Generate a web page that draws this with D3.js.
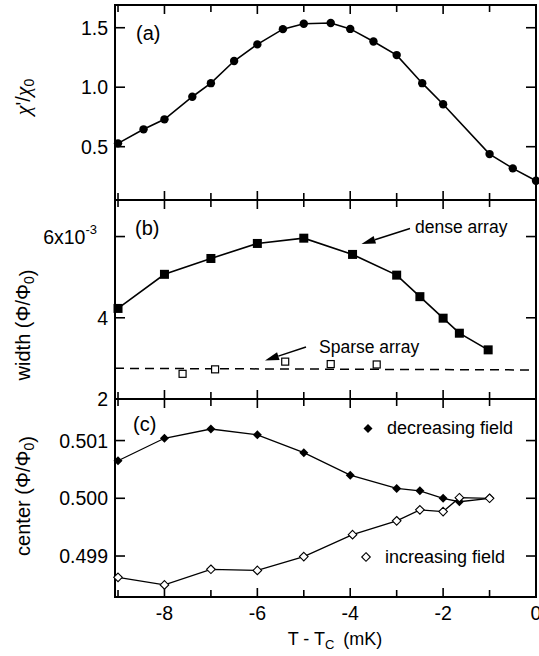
<!DOCTYPE html>
<html>
<head>
<meta charset="utf-8">
<script src="https://cdn.jsdelivr.net/npm/d3@7"></script>
<style>
  body { margin: 0; background: #fff; }
  text { font-family: "Liberation Sans", Arial, Helvetica, sans-serif; fill: #000; }
  tspan.greek { font-family: "Liberation Serif", "DejaVu Serif", serif; font-style: italic; }
</style>
</head>
<body>
<svg id="chart" width="539" height="656"></svg>
<script>
// (a) susceptibility vs temperature
const tempA = [-9, -8.45, -8, -7.4, -7, -6.5, -6, -5.45, -5, -4.42, -4, -3.5, -3, -2.45, -2, -1, -0.5, 0];
const chiA  = [0.528, 0.646, 0.73, 0.92, 1.034, 1.22, 1.36, 1.488, 1.533, 1.54, 1.49, 1.384, 1.27, 1.034, 0.857, 0.438, 0.318, 0.214];

// (b) transition width, dense and sparse arrays
const tempDense  = [-9, -8, -7, -6, -5, -3.95, -3, -2.5, -2, -1.65, -1.03];
const widthDense = [4.23, 5.07, 5.46, 5.83, 5.96, 5.56, 5.05, 4.52, 3.99, 3.62, 3.21];
const tempSparse  = [-7.61, -6.91, -5.4, -4.42, -3.43];
const widthSparse = [2.62, 2.73, 2.92, 2.86, 2.85];
const sparseFitT = [-9.065, 0];
const sparseFitW = [2.755, 2.715];

// (c) transition center for both sweep directions
const tempDec   = [-9, -8, -7, -6, -5, -4, -3, -2.5, -2, -1.65, -1];
const centerDec = [0.50065, 0.50104, 0.50120, 0.50110, 0.50079, 0.50040, 0.50017, 0.50013, 0.50000, 0.49994, 0.50000];
const tempInc   = [-9, -8, -7, -6, -5, -3.95, -3, -2.5, -2, -1.65, -1];
const centerInc = [0.49863, 0.49850, 0.49877, 0.49875, 0.49899, 0.49937, 0.49961, 0.49980, 0.49977, 0.50001, 0.50000];

// tick values
const xTicks = [-9, -8, -7, -6, -5, -4, -3, -2, -1];
const xTickLabels = [-8, -6, -4, -2, 0];
const yTicksA = [0.5, 1.0, 1.5];
const yTicksB = [2, 4, 6];
const yTicksC = [0.499, 0.500, 0.501];

const svg = d3.select("#chart");
const left = 115, right = 536;
const x = d3.scaleLinear().domain([-9.065, 0]).range([left, right]);

const panels = [
  { top: 5,   bottom: 200, y: d3.scaleLinear().domain([0.052, 1.691]).range([200, 5]),
    ticks: yTicksA, fmt: d => d.toFixed(1) },
  { top: 200, bottom: 399, y: d3.scaleLinear().domain([2, 6.9]).range([399, 200]),
    ticks: yTicksB, fmt: d => (d === 6 ? null : String(d)) },
  { top: 399, bottom: 597, y: d3.scaleLinear().domain([0.49829, 0.50172]).range([597, 399]),
    ticks: yTicksC, fmt: d => d.toFixed(3) }
];

const frame = svg.append("g");
panels.forEach(p => {
  // inward ticks on top and bottom edges
  xTicks.forEach(t => {
    const len = (t % 2 === 0) ? 9 : 7;
    frame.append("line").attr("x1", x(t)).attr("x2", x(t))
      .attr("y1", p.top).attr("y2", p.top + len)
      .attr("stroke", "#000").attr("stroke-width", 1.6);
    frame.append("line").attr("x1", x(t)).attr("x2", x(t))
      .attr("y1", p.bottom).attr("y2", p.bottom - len)
      .attr("stroke", "#000").attr("stroke-width", 1.6);
  });
  // inward ticks on left and right edges
  p.ticks.forEach(t => {
    const yy = p.y(t);
    if (yy <= p.top + 1 || yy >= p.bottom - 1) return;
    frame.append("line").attr("x1", left).attr("x2", left + 10)
      .attr("y1", yy).attr("y2", yy).attr("stroke", "#000").attr("stroke-width", 1.6);
    frame.append("line").attr("x1", right).attr("x2", right - 10)
      .attr("y1", yy).attr("y2", yy).attr("stroke", "#000").attr("stroke-width", 1.6);
  });
  // tick labels
  p.ticks.forEach(t => {
    const lab = p.fmt(t);
    if (lab === null) return;
    svg.append("text").attr("x", 108).attr("y", p.y(t)).attr("dy", "0.36em")
      .attr("text-anchor", "end").attr("font-size", 19.5).text(lab);
  });
  frame.append("rect").attr("x", left).attr("y", p.top)
    .attr("width", right - left).attr("height", p.bottom - p.top)
    .attr("fill", "none").attr("stroke", "#000").attr("stroke-width", 2);
});

// 6x10^-3 label
{
  const t = svg.append("text").attr("x", 97).attr("y", panels[1].y(6)).attr("dy", "0.36em")
    .attr("text-anchor", "end").attr("font-size", 19.5);
  t.append("tspan").text("6x10");
  t.append("tspan").attr("font-size", 13).attr("dy", "-0.75em").text("-3");
}

// x tick labels
xTickLabels.forEach(t => {
  svg.append("text").attr("x", x(t)).attr("y", 620).attr("text-anchor", "middle")
    .attr("font-size", 19.5).text(String(t));
});

// x axis title
{
  const t = svg.append("text").attr("x", 335).attr("y", 645).attr("text-anchor", "middle")
    .attr("font-size", 18);
  t.append("tspan").text("T - T");
  t.append("tspan").attr("font-size", 13).attr("dy", 4).text("C");
  t.append("tspan").attr("dy", -4).attr("dx", 9).text("(mK)");
}

// y axis titles: parts are [string, kind] with kind "sub", "greek" or plain
function yTitle(cy, parts) {
  const t = svg.append("text").attr("transform", `translate(30,${cy}) rotate(-90)`)
    .attr("text-anchor", "middle").attr("font-size", 20);
  parts.forEach(([s, kind]) => {
    if (kind === "sub") {
      t.append("tspan").attr("font-size", 14).attr("dy", 4).text(s);
      t.append("tspan").attr("dy", -4).text("");
    } else if (kind === "greek") {
      t.append("tspan").attr("class", "greek").attr("font-size", 22).text(s);
    } else {
      t.append("tspan").text(s);
    }
  });
}
yTitle(97,  [["χ", "greek"], ["'/"], ["χ", "greek"], ["0", "sub"]]);
yTitle(325, [["width (Φ/Φ"], ["0", "sub"], [")"]]);
yTitle(496, [["center (Φ/Φ"], ["0", "sub"], [")"]]);

// panel letters
svg.append("text").attr("x", 136).attr("y", 40).attr("font-size", 20).text("(a)");
svg.append("text").attr("x", 135).attr("y", 235).attr("font-size", 20).text("(b)");
svg.append("text").attr("x", 133).attr("y", 431).attr("font-size", 20).text("(c)");

const lineGen = ys => d3.line().x(d => x(d[0])).y(d => ys(d[1]));

// (a)
{
  const ys = panels[0].y;
  const pts = d3.zip(tempA, chiA);
  svg.append("path").datum(pts).attr("d", lineGen(ys)).attr("fill", "none")
    .attr("stroke", "#000").attr("stroke-width", 1.6);
  svg.selectAll(".ca").data(pts).enter().append("circle")
    .attr("cx", d => x(d[0])).attr("cy", d => ys(d[1])).attr("r", 4.2).attr("fill", "#000");
}

// (b)
{
  const ys = panels[1].y;
  const fit = d3.zip(sparseFitT, sparseFitW);
  svg.append("path").datum(fit).attr("d", lineGen(ys)).attr("fill", "none")
    .attr("stroke", "#000").attr("stroke-width", 1.5).attr("stroke-dasharray", "9,6");
  const dense = d3.zip(tempDense, widthDense);
  svg.append("path").datum(dense).attr("d", lineGen(ys)).attr("fill", "none")
    .attr("stroke", "#000").attr("stroke-width", 1.6);
  svg.selectAll(".sd").data(dense).enter().append("rect")
    .attr("x", d => x(d[0]) - 4.5).attr("y", d => ys(d[1]) - 4.5)
    .attr("width", 9).attr("height", 9).attr("fill", "#000");
  const sparse = d3.zip(tempSparse, widthSparse);
  svg.selectAll(".ss").data(sparse).enter().append("rect")
    .attr("x", d => x(d[0]) - 3.5).attr("y", d => ys(d[1]) - 3.5)
    .attr("width", 7).attr("height", 7).attr("fill", "#fff")
    .attr("stroke", "#000").attr("stroke-width", 1.2);
}

// arrows with labels
function arrow(x1, y1, x2, y2) {
  const ang = Math.atan2(y2 - y1, x2 - x1);
  const L = 14, W = 4;
  const bx = x2 - L * Math.cos(ang), by = y2 - L * Math.sin(ang);
  svg.append("line").attr("x1", x1).attr("y1", y1).attr("x2", bx).attr("y2", by)
    .attr("stroke", "#000").attr("stroke-width", 1.5);
  const px = -Math.sin(ang) * W, py = Math.cos(ang) * W;
  svg.append("path").attr("d", `M${x2},${y2}L${bx + px},${by + py}L${bx - px},${by - py}Z`)
    .attr("fill", "#000");
}
arrow(410, 228.5, 361.5, 244);
svg.append("text").attr("x", 415).attr("y", 233).attr("font-size", 17.5).text("dense array");
arrow(306, 347, 265, 360.5);
svg.append("text").attr("x", 319).attr("y", 353).attr("font-size", 17.5).text("Sparse array");

// (c)
function diamond(cx, cy, r) {
  return `M${cx},${cy - r}L${cx + r},${cy}L${cx},${cy + r}L${cx - r},${cy}Z`;
}
{
  const ys = panels[2].y;
  const dec = d3.zip(tempDec, centerDec);
  const inc = d3.zip(tempInc, centerInc);
  svg.append("path").datum(dec).attr("d", lineGen(ys)).attr("fill", "none")
    .attr("stroke", "#000").attr("stroke-width", 1.3);
  svg.append("path").datum(inc).attr("d", lineGen(ys)).attr("fill", "none")
    .attr("stroke", "#000").attr("stroke-width", 1.3);
  svg.selectAll(".dd").data(dec).enter().append("path")
    .attr("d", d => diamond(x(d[0]), ys(d[1]), 4.5)).attr("fill", "#000");
  svg.selectAll(".di").data(inc).enter().append("path")
    .attr("d", d => diamond(x(d[0]), ys(d[1]), 4.3)).attr("fill", "#fff")
    .attr("stroke", "#000").attr("stroke-width", 1.1);

  // legend
  svg.append("path").attr("d", diamond(368, 428.5, 4.5)).attr("fill", "#000");
  svg.append("text").attr("x", 387).attr("y", 434).attr("font-size", 18).text("decreasing field");
  svg.append("path").attr("d", diamond(366, 557, 4.3)).attr("fill", "#fff")
    .attr("stroke", "#000").attr("stroke-width", 1.1);
  svg.append("text").attr("x", 385).attr("y", 563).attr("font-size", 18).text("increasing field");
}
</script>
</body>
</html>
